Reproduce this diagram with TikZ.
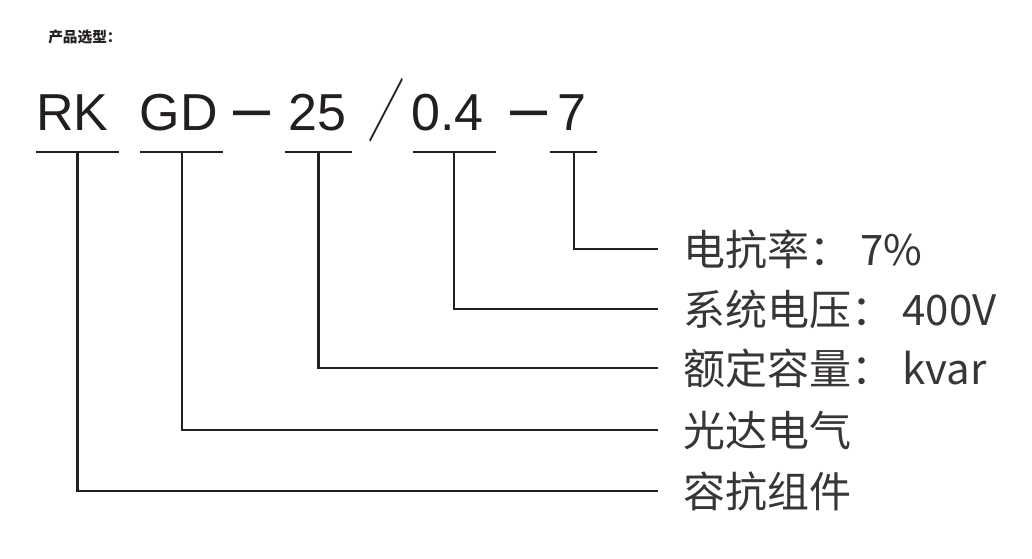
\documentclass[tikz,border=0pt]{standalone}
\usepackage{fontspec}
\setmainfont{Liberation Sans}
\newfontfamily\cjk{Noto Sans CJK SC}
\usepackage{xcolor}
\usepackage{tikz}
\usetikzlibrary{calc}

\definecolor{ink}{HTML}{231F20}

\begin{document}
\begin{tikzpicture}[x=0.75pt, y=-0.75pt,
    code/.style={font=\fontsize{39}{39}\selectfont, text=ink, inner sep=0pt, anchor=base west},
    lbl/.style={font=\cjk\fontsize{31.5}{31.5}\selectfont, text=ink!90, inner sep=0pt, anchor=west},
    bar/.style={draw=ink, line width=1.9pt},
    lead/.style={draw=ink, line width=1.9pt, shorten >=18.75pt}]

    \useasboundingbox (0,0) rectangle (1032,558);

    % title
    \node[font=\cjk\bfseries\fontsize{11}{11}\selectfont, text=ink, anchor=west, inner sep=0pt] (title) at (48,37) {产品选型：};

    % model code
    \node[code] (rk) at (36,130) {RK};
    \node[code] (gd) at (139.5,130) {GD};
    \node[code] (dasha) at (233,130) {\scalebox{1.28}[1.3]{–}};
    \node[code] (n25) at (288,130) {25};
    \node[code, font=\cjk\fontsize{45}{45}\selectfont, anchor=center] (slash) at (386.5,110) {\scalebox{0.6}[1.15]{／}};
    \node[code] (v04) at (411,130) {0.4};
    \node[code] (dashb) at (510,130) {\scalebox{1.28}[1.3]{–}};
    \node[code] (n7) at (557,130) {7};

    % tick points under each part
    \coordinate (trk) at (77.5,152);
    \coordinate (tgd) at (182,152);
    \coordinate (t25) at (318.5,152);
    \coordinate (t04) at (454,152);
    \coordinate (t7) at (574,152);

    \draw[bar] ($(trk)+(-41.5,0)$) -- ($(trk)+(41.5,0)$);
    \draw[bar] ($(tgd)+(-42,0)$) -- ($(tgd)+(41,0)$);
    \draw[bar] ($(t25)+(-33.5,0)$) -- ($(t25)+(33.5,0)$);
    \draw[bar] ($(t04)+(-41,0)$) -- ($(t04)+(42,0)$);
    \draw[bar] ($(t7)+(-24,0)$) -- ($(t7)+(23,0)$);

    % meanings
    \node[lbl] (l7) at (683,249) {电抗率：\ 7\%};
    \node[lbl] (l04) at (683,309) {系统电压：\ 400V};
    \node[lbl] (l25) at (683,368) {额定容量：\ kvar};
    \node[lbl] (lgd) at (683,430) {光达电气};
    \node[lbl] (lrk) at (683,491) {容抗组件};

    \draw[lead] (t7) |- (l7.west);
    \draw[lead] (t04) |- (l04.west);
    \draw[lead] (t25) |- (l25.west);
    \draw[lead] (tgd) |- (lgd.west);
    \draw[lead] (trk) |- (lrk.west);

\end{tikzpicture}
\end{document}
